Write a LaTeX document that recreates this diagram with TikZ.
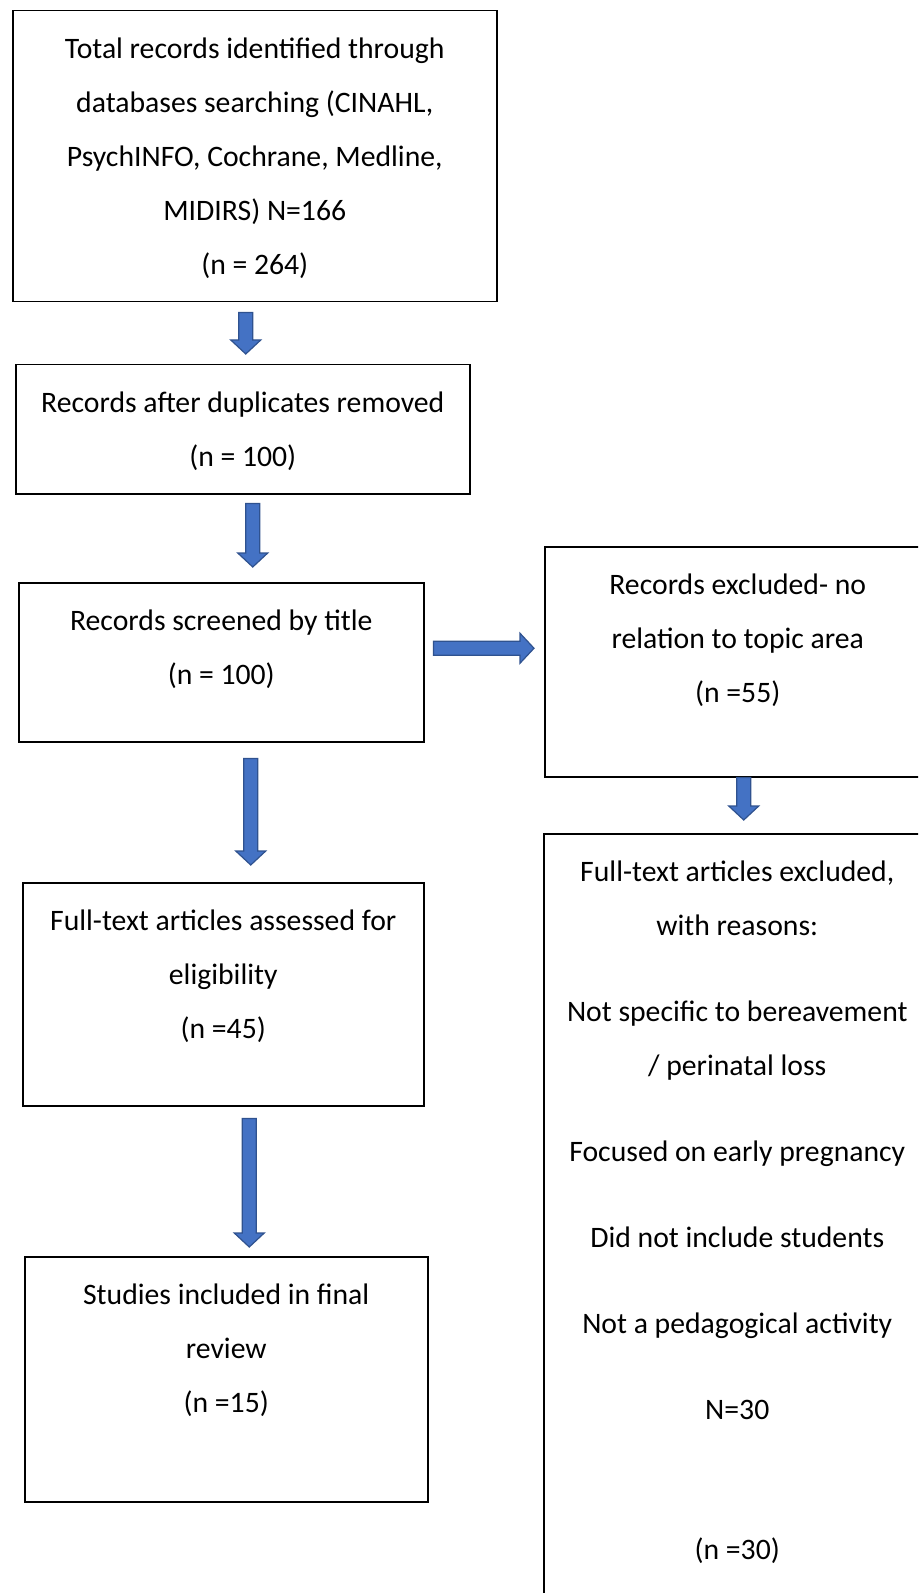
\documentclass[tikz,border=0pt]{standalone}
\usepackage{fontspec}
\setmainfont{Carlito}
\usetikzlibrary{calc}
\definecolor{arrowfill}{HTML}{4472C4}
\definecolor{arrowedge}{HTML}{2F528F}
\newcommand{\boxtext}[3]{\parbox[c][#2][t]{#1}{\centering\rule{0pt}{24pt}#3}}

\begin{document}
\begin{tikzpicture}[x=0.5pt, y=-0.5pt,
  box/.style={draw, line width=0.75pt, inner sep=0pt, anchor=north west, font=\fontsize{14.85pt}{27pt}\selectfont},
  fatarrow/.style={draw=arrowedge, fill=arrowfill, line width=0.6pt,
    to path={let \p1=(\tikztostart), \p2=(\tikztotarget), \p3=($(\p2)!7pt!(\p1)$) in
      ($(\p1)!3.5pt!90:(\p2)$) -- ($(\p3)!3.5pt!90:(\p2)$) -- ($(\p3)!7.5pt!90:(\p2)$) -- (\p2)
      -- ($(\p3)!7.5pt!-90:(\p2)$) -- ($(\p3)!3.5pt!-90:(\p2)$) -- ($(\p1)!3.5pt!-90:(\p2)$) -- cycle}}]
\useasboundingbox (0,0) rectangle (918,1593);
\clip (0,0) rectangle (918,1593);

\node[box] (ident) at (12,10) {\boxtext{242pt}{145.5pt}{Total records identified through\\databases searching (CINAHL,\\PsychINFO, Cochrane, Medline,\\MIDIRS) N=166\\(n = 264)}};
\node[box] (dedup) at (15,364) {\boxtext{227pt}{64.5pt}{Records after duplicates removed\\(n = 100)}};
\node[box] (screen) at (18,582) {\boxtext{202.5pt}{79.5pt}{Records screened by title\\(n = 100)}};
\node[box] (excl) at (544,546) {\boxtext{193pt}{115pt}{Records excluded- no\\relation to topic area\\(n =55)}};
\node[box] (full) at (22,882) {\boxtext{200.5pt}{111.5pt}{Full-text articles assessed for\\eligibility\\(n =45)}};
\node[box] (reas) at (543,833) {\boxtext{193.5pt}{393.5pt}{Full-text articles excluded,\\with reasons:\\[16pt]Not specific to bereavement\\/ perinatal loss\\[16pt]Focused on early pregnancy\\[16pt]Did not include students\\[16pt]Not a pedagogical activity\\[16pt]N=30\\[43pt](n =30)}};
\node[box] (incl) at (24,1256) {\boxtext{201.5pt}{122.5pt}{Studies included in final\\review\\(n =15)}};

\draw[fatarrow] ($(ident.south)+(-9,10)$) to ($(dedup.north)+(3,-10)$);
\draw[fatarrow] ($(dedup.south)+(10,9)$) to ($(screen.north)+(31.5,-15)$);
\draw[fatarrow] ($(screen.south)+(29.5,16)$) to ($(full.north)+(27.5,-17)$);
\draw[fatarrow] ($(full.south)+(26,12)$) to ($(incl.north)+(23,-9)$);
\draw[fatarrow] ($(screen.east)+(9,-14)$) to ($(excl.west)+(-10,-13.5)$);
\draw[fatarrow] ($(excl.south)+(6,0)$) to ($(reas.north)+(6.5,-13)$);
\end{tikzpicture}
\end{document}
